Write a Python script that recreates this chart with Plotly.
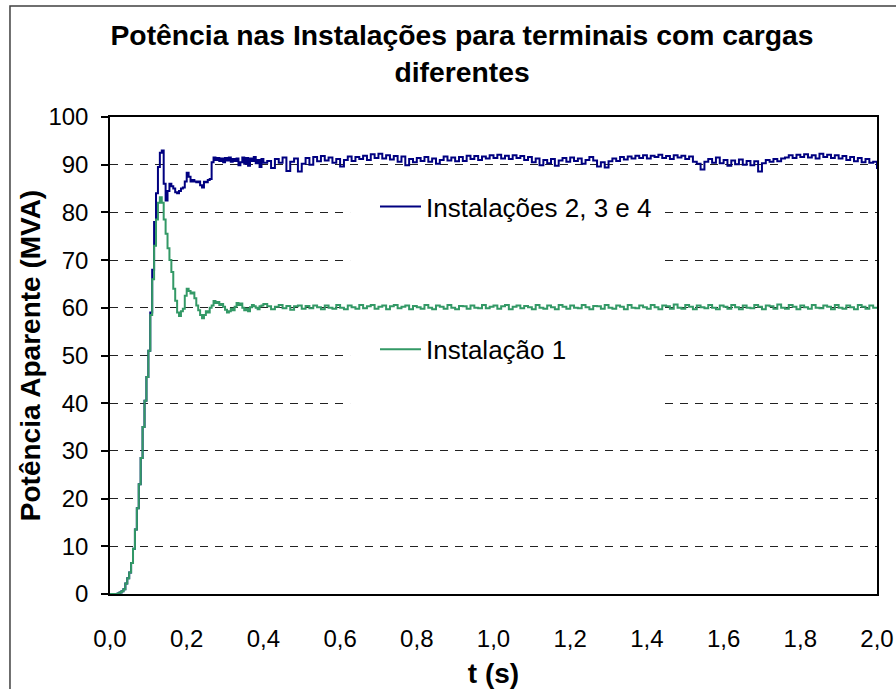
import numpy as np
import plotly.graph_objects as go

# Time axis: fine sampling during start-up transient, coarser afterwards
t_start = np.round(np.arange(0.0, 0.4001, 0.005), 3)
t_steady = np.round(np.arange(0.41, 2.0001, 0.01), 2)
t = np.concatenate([t_start, t_steady])

# Apparent power, installations 2, 3 and 4 (MVA)
inst234_start = [
    0, 0, 0, 0, 0.1, 0.3, 0.6, 1.0, 2.2, 3.3,
    4.5, 6.5, 9.5, 13.5, 18.0, 23.0, 28.5, 35.0, 40.5, 45.5,
    51.0, 59.0, 68.0, 78.0, 84.0, 89.5, 92.5, 93.0, 86.0, 82.5,
    84.5, 86.0, 85.5, 85.0, 84.2, 84.0, 84.5, 85.0, 85.2, 86.5,
    88.3, 87.5, 86.5, 86.8, 86.5, 86.3, 86.5, 85.7, 85.2, 86.4,
    86.3, 86.8, 87.0, 90.5, 91.5, 91.0, 91.4, 90.8, 91.3, 90.5,
    91.4, 90.9, 91.5, 90.6, 91.2, 90.8, 91.3, 89.9, 90.5, 91.5,
    90.2, 91.4, 89.8, 91.3, 90.8, 91.6, 90.3, 91.0, 89.5, 91.2,
    90.4,
]
inst234_steady = [
    90.8, 89.3, 91.2, 90.4, 91.5, 88.7, 90.6, 91.3, 88.6, 90.2,
    91.4, 90.0, 91.6, 90.7, 91.8, 90.9, 91.5, 90.4, 91.2, 89.6,
    91.0, 91.7, 90.8, 91.6, 91.2, 91.9, 91.0, 92.2, 91.4, 92.3,
    91.3, 92.0, 91.1, 91.8, 90.6, 91.7, 89.9, 91.2, 90.5, 91.4,
    90.8, 91.6, 90.6, 91.3, 90.2, 91.0, 91.7, 90.9, 91.5, 90.7,
    91.6, 90.8, 91.9, 91.2, 91.8, 91.0, 91.7, 91.3, 92.0, 91.4,
    92.1, 91.3, 91.9, 91.2, 92.0, 91.4, 91.8, 91.0, 91.6, 90.5,
    91.3, 89.9, 91.0, 90.3, 91.2, 89.8, 90.9, 91.4, 90.6, 91.5,
    90.8, 91.3, 90.2, 91.0, 91.6, 90.9, 89.6, 90.5, 89.4, 90.7,
    91.3, 90.8, 91.6, 91.1, 91.7, 91.3, 91.9, 91.4, 92.0, 91.3,
    91.9, 91.6, 92.1, 91.4, 91.8, 91.2, 92.0, 91.5, 91.9, 91.2,
    91.7, 90.6, 90.2, 89.0, 90.6, 91.2, 90.4, 91.5, 90.3, 91.0,
    89.8, 90.9, 90.1, 91.1, 90.0, 90.8, 89.9, 90.7, 88.6, 90.3,
    91.0, 90.6, 91.2, 90.7, 91.3, 91.5, 92.0, 91.4, 92.1, 91.6,
    92.2, 91.5, 92.0, 91.3, 92.3, 91.6, 92.1, 91.4, 92.0, 91.3,
    91.8, 91.0, 91.6, 90.7, 91.4, 90.5, 91.2, 90.4, 90.6, 89.1,
]

# Apparent power, installation 1 (MVA)
inst1_start = [
    0, 0, 0, 0, 0.1, 0.3, 0.6, 1.0, 2.2, 3.3,
    4.5, 6.5, 9.5, 13.5, 18.0, 23.0, 28.5, 35.0, 40.5, 45.5,
    51.0, 58.5, 66.0, 73.0, 78.5, 82.0, 83.2, 82.0, 78.5, 75.5,
    72.5, 70.0, 67.5, 64.0, 61.5, 59.0, 58.3, 59.3, 59.8, 62.5,
    64.0, 63.5, 63.0, 63.2, 62.0, 60.5, 59.5, 58.5, 57.8, 58.5,
    59.3, 59.0, 60.0, 60.5, 61.4, 61.0, 61.2, 60.6, 60.8, 60.2,
    59.6, 59.0, 59.3, 59.8, 59.5, 60.2, 61.0, 60.6, 60.9, 60.0,
    59.5, 59.8, 59.3, 60.1, 60.6, 60.3, 60.0, 59.7, 60.3, 60.5,
    60.8,
]
inst1_steady = [
    60.3, 59.7, 60.2, 60.6, 59.9, 60.4, 59.6, 60.3, 60.5, 59.8,
    60.4, 59.9, 60.5, 60.1, 59.7, 60.5, 60.0, 59.8, 60.6, 60.0,
    59.7, 60.5, 60.1, 59.8, 60.6, 59.9, 60.3, 60.6, 59.8, 60.2,
    60.5, 59.7, 60.3, 60.6, 59.9, 60.2, 60.5, 59.7, 60.4, 60.1,
    59.8, 60.6, 60.0, 59.7, 60.5, 60.2, 59.8, 60.6, 60.0, 59.7,
    60.4, 60.3, 59.8, 60.5, 60.0, 59.9, 60.6, 59.9, 60.2, 60.5,
    59.8, 60.3, 60.6, 59.7, 60.2, 60.5, 59.9, 60.4, 60.1, 59.7,
    60.6, 60.0, 59.8, 60.5, 60.1, 59.7, 60.6, 60.2, 59.8, 60.5,
    60.0, 59.9, 60.6, 60.1, 59.7, 60.4, 60.3, 59.8, 60.6, 60.0,
    59.8, 60.5, 60.2, 59.7, 60.6, 60.0, 59.9, 60.5, 60.1, 59.8,
    60.6, 60.1, 59.7, 60.5, 60.3, 59.8, 60.7, 60.0, 59.8, 60.6,
    60.2, 59.7, 60.5, 60.1, 59.9, 60.6, 60.0, 59.7, 60.5, 60.2,
    59.8, 60.6, 60.1, 59.7, 60.5, 60.0, 59.9, 60.6, 60.2, 59.7,
    60.5, 60.3, 59.8, 60.7, 60.0, 59.8, 60.6, 60.2, 59.7, 60.5,
    60.1, 59.8, 60.6, 60.0, 59.9, 60.5, 60.2, 59.7, 60.6, 60.0,
    59.8, 60.5, 60.1, 59.7, 60.6, 60.2, 59.8, 60.5, 60.0, 60.2,
]

inst234 = inst234_start + inst234_steady
inst1 = inst1_start + inst1_steady

names = ["Instalações 2, 3 e 4", "Instalação 1"]
colors = ["#000080", "#339966"]

x_ticks = [0.0, 0.2, 0.4, 0.6, 0.8, 1.0, 1.2, 1.4, 1.6, 1.8, 2.0]
y_ticks = [0, 10, 20, 30, 40, 50, 60, 70, 80, 90, 100]

FONT = "Liberation Sans, Arial, sans-serif"

fig = go.Figure()
for series, name, color in zip([inst234, inst1], names, colors):
    fig.add_trace(go.Scatter(
        x=t, y=series, name=name, mode="lines",
        line=dict(color=color, width=2, shape="hv"),
        legendgroup=name,
    ))

# white panel behind the legend: hides the gridlines, the curves stay on top
fig.add_shape(type="rect", xref="x", yref="y",
              x0=0.626, x1=1.442, y0=35.4, y1=85.5,
              fillcolor="white", line=dict(width=0), layer="between")

# outer chart frame
fig.add_shape(type="rect", xref="paper", yref="paper",
              x0=-0.1304, x1=1.05, y0=-0.25, y1=1.2327,
              fillcolor="rgba(0,0,0,0)", line=dict(color="#404040", width=1.5),
              layer="above")

fig.update_layout(
    template="none",
    width=896, height=689,
    margin=dict(l=110, r=19, t=117, b=95),
    paper_bgcolor="white", plot_bgcolor="white",
    separators=", ",
    font=dict(family=FONT, size=24, color="black"),
    title=dict(
        text="<b>Potência nas Instalações para terminais com cargas<br>diferentes</b>",
        x=462 / 896, xanchor="center", xref="container",
        y=1 - 45 / 689, yanchor="top", yref="container",
        font=dict(size=28.3, color="black"),
    ),
    xaxis=dict(
        range=[0, 2.0], tickvals=x_ticks, tickformat=".1f",
        showgrid=False, zeroline=False, automargin=False,
        showline=True, linecolor="black", linewidth=1.5, mirror=True,
        ticks="", ticklabelstandoff=22,
        tickfont=dict(size=24),
        title=dict(text="<b>t (s)</b>", font=dict(size=28), standoff=17),
    ),
    yaxis=dict(
        range=[0, 100], tickvals=y_ticks,
        showgrid=True, gridcolor="#222222", gridwidth=1, griddash="8px,7px",
        zeroline=False, automargin=False,
        showline=True, linecolor="black", linewidth=1.5, mirror=True,
        ticks="outside", ticklen=7, tickcolor="black", tickwidth=1.5,
        ticklabelstandoff=8,
        tickfont=dict(size=24),
        title=dict(text="<b>Potência Aparente (MVA)</b>", font=dict(size=28), standoff=0),
    ),
    showlegend=True,
    legend=dict(
        x=0.3455, xanchor="left", y=0.8616, yanchor="top",
        bgcolor="rgba(0,0,0,0)", borderwidth=0,
        font=dict(size=26, color="black"),
        itemwidth=41,
        traceorder="grouped", tracegroupgap=106,
    ),
)

fig.write_html("out.html")
